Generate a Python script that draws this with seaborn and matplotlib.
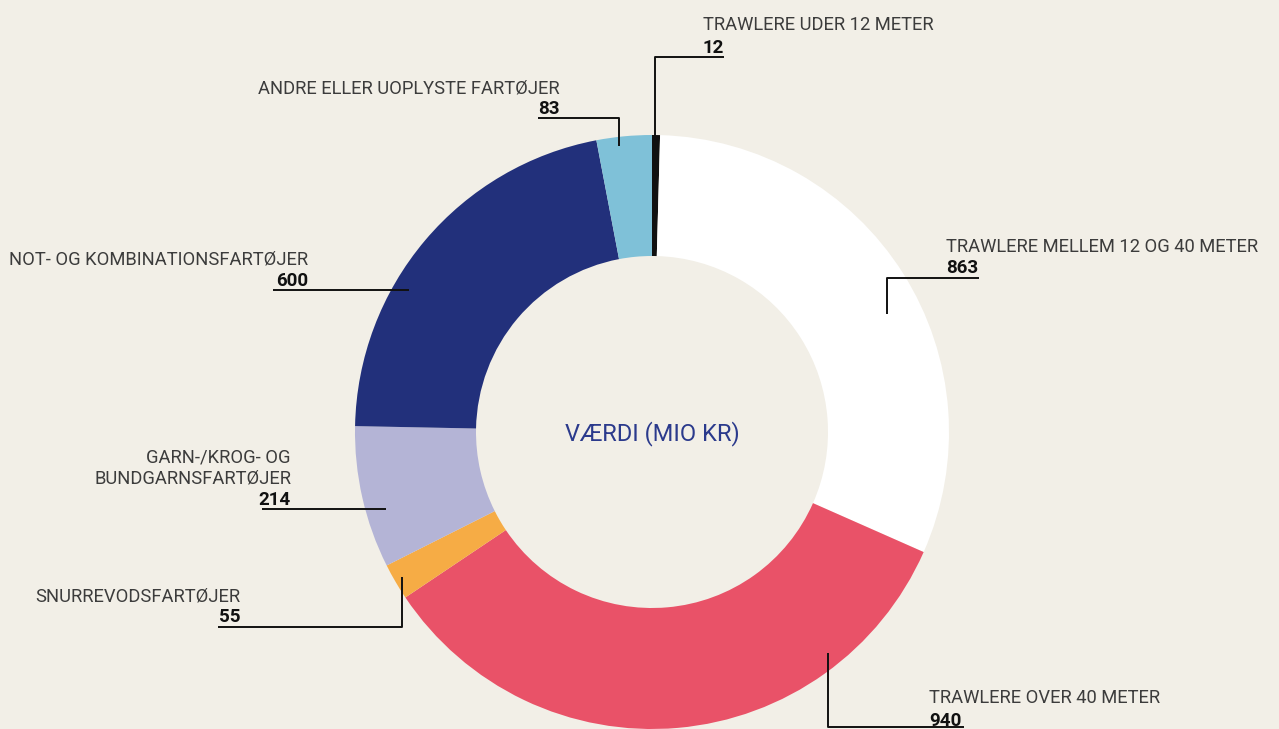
import matplotlib
matplotlib.use("Agg")
import matplotlib.pyplot as plt
import seaborn as sns

# ---- data ----
categories = [
    "TRAWLERE UDER 12 METER",
    "TRAWLERE MELLEM 12 OG 40 METER",
    "TRAWLERE OVER 40 METER",
    "SNURREVODSFARTØJER",
    "GARN-/KROG- OG\nBUNDGARNSFARTØJER",
    "NOT- OG KOMBINATIONSFARTØJER",
    "ANDRE ELLER UOPLYSTE FARTØJER",
]
values = [12, 863, 940, 55, 214, 600, 83]
colors = ["#111111", "#FFFFFF", "#E95268", "#F6AC45", "#B4B4D6", "#22307B", "#7FC1D8"]
center_label = "VÆRDI (MIO KR)"

# ---- layout (pixel coords, y measured from top) ----
W, H = 1279, 729
BG = "#F2EFE7"
cx, cy, R, r = 652, 432, 297, 176
# text x, ha, name baseline, value baseline, leader polyline
layout = [
    (703, "left", 30, 53, [(724, 57), (655, 57), (655, 140)]),
    (946, "left", 252, 273, [(979, 278), (887, 278), (887, 314)]),
    (929, "left", 703, 726, [(964, 727), (828, 727), (828, 653)]),
    (240, "right", 601, 622, [(218, 627), (402, 627), (402, 577)]),
    (291, "right", 483, 505, [(262, 509), (386, 509)]),
    (308, "right", 264, 286, [(273, 290), (409, 290)]),
    (560, "right", 93, 114, [(538, 118), (619, 118), (619, 146)]),
]

sns.set_theme(style="white", rc={"axes.facecolor": BG, "figure.facecolor": BG,
                                 "savefig.facecolor": BG})
plt.rcParams["font.family"] = ["Roboto", "DejaVu Sans"]

fig = plt.figure(figsize=(W / 100, H / 100), dpi=100)
ax = fig.add_axes([0, 0, 1, 1])
ax.pie(values, colors=colors, radius=R, center=(cx, H - cy), startangle=90,
       counterclock=False, wedgeprops=dict(width=R - r, linewidth=0), frame=True)
ax.set_xlim(0, W)
ax.set_ylim(0, H)
ax.set_aspect("equal")
ax.axis("off")

def Y(y):
    return H - y

for name, val, (tx, ha, nb, vb, pts) in zip(categories, values, layout):
    lines = name.split("\n")
    n = len(lines)
    for i, ln in enumerate(lines):
        ax.text(tx, Y(nb - (n - 1 - i) * 21), ln, ha=ha, va="baseline",
                fontsize=13.2, fontweight="normal", color="#3C3C3C")
    ax.text(tx, Y(vb), f"{val}", ha=ha, va="baseline", fontsize=13.5,
            fontweight="bold", color="#111111")
    xs = [p[0] for p in pts]
    ys = [Y(p[1]) for p in pts]
    ax.plot(xs, ys, color="#111111", lw=1.4, solid_capstyle="butt")

ax.text(cx, Y(434), center_label, ha="center", va="center", fontsize=17,
        fontweight="normal", color="#2B3A8C")

fig.savefig("out.png", dpi=100, facecolor=BG)
